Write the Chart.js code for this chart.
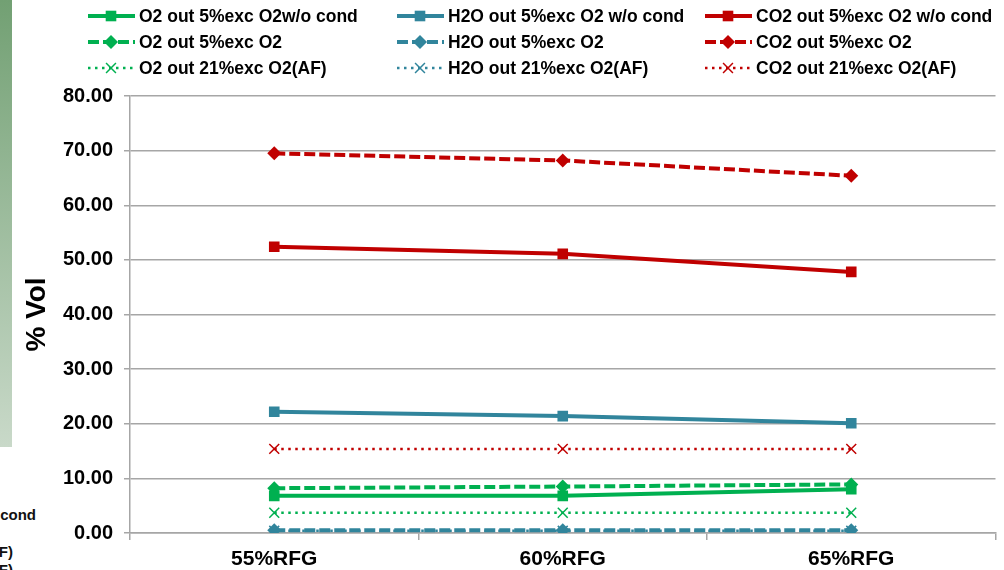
<!DOCTYPE html>
<html lang="en">
<head>
  <meta charset="UTF-8">
  <title>% Vol by RFG</title>
  <script src="https://cdn.jsdelivr.net/npm/chart.js"></script>
  <style>
    body {
      margin: 0;
      padding: 0;
      background: #fff;
      font-family: Arial, "Liberation Sans", sans-serif;
    }

    #wrap {
      position: relative;
      width: 1004px;
      height: 570px;
      overflow: hidden;
    }

    #sideBar {
      position: absolute;
      left: 0;
      top: 0;
      width: 12px;
      height: 447px;
      background: linear-gradient(#72a073, #c9d9c9);
    }

    .cut {
      position: absolute;
      left: 0;
      overflow: hidden;
      white-space: nowrap;
      font-weight: bold;
      font-size: 15px;
      color: #111;
      direction: rtl;
    }

    canvas {
      position: absolute;
      left: 0;
      top: 0;
    }
  </style>
</head>
<body>
  <div id="wrap">
    <div id="sideBar"></div>
    <div class="cut" style="top:506px; width:36px;">&lrm;cond</div>
    <div class="cut" style="top:543px; width:13px;">&lrm;(AF)</div>
    <div class="cut" style="top:561px; width:13px;">&lrm;(AF)</div>
    <canvas id="myChart" width="1004" height="570"></canvas>
  </div>

  <script>
    const categories = ['55%RFG', '60%RFG', '65%RFG'];

    const o2WoCond = [6.8, 6.8, 8.0];
    const h2oWoCond = [22.2, 21.4, 20.1];
    const co2WoCond = [52.4, 51.1, 47.8];

    const o2Exc5 = [8.2, 8.5, 8.9];
    const h2oExc5 = [0.5, 0.5, 0.5];
    const co2Exc5 = [69.5, 68.2, 65.4];

    const o2Af = [3.7, 3.7, 3.7];
    const h2oAf = [0.4, 0.4, 0.4];
    const co2Af = [15.4, 15.4, 15.4];

    const yMin = 0;
    const yMax = 80;
    const yStep = 10;

    const green = '#00b050';
    const teal = '#31859c';
    const red = '#c00000';
    const gridGrey = '#a6a6a6';
    const font = 'Arial, "Liberation Sans", sans-serif';

    function solid(label, data, color) {
      return {
        label: label, data: data, borderColor: color, backgroundColor: color,
        borderWidth: 4, borderDash: [], pointStyle: 'rect', pointRadius: 7.5,
        pointBorderWidth: 0
      };
    }

    function dashed(label, data, color) {
      return {
        label: label, data: data, borderColor: color, backgroundColor: color,
        borderWidth: 4, borderDash: [11, 4], pointStyle: 'rectRot', pointRadius: 7,
        pointBorderWidth: 0
      };
    }

    function dotted(label, data, color) {
      return {
        label: label, data: data, borderColor: color, backgroundColor: color,
        borderWidth: 2.5, borderDash: [2.5, 4.5], pointStyle: 'crossRot', pointRadius: 7,
        pointBorderWidth: 1.5
      };
    }

    // legend laid out in three fixed columns like the original
    const legendCols = [88, 397, 705];
    const legendRows = [16, 42, 68];

    const gridLegend = {
      id: 'gridLegend',
      afterDraw(chart) {
        const ctx = chart.ctx;
        chart.data.datasets.forEach(function(ds, i) {
          const x0 = legendCols[i % 3];
          const y = legendRows[Math.floor(i / 3)];
          ctx.save();
          ctx.strokeStyle = ds.borderColor;
          ctx.lineWidth = ds.borderWidth;
          ctx.setLineDash(ds.borderDash);
          ctx.beginPath();
          ctx.moveTo(x0, y);
          ctx.lineTo(x0 + 47, y);
          ctx.stroke();
          ctx.setLineDash([]);
          ctx.fillStyle = ds.backgroundColor;
          ctx.strokeStyle = ds.borderColor;
          ctx.lineWidth = ds.pointBorderWidth || 1.5;
          Chart.helpers.drawPoint(ctx, {
            pointStyle: ds.pointStyle,
            radius: ds.pointRadius,
            rotation: 0,
            borderWidth: ds.pointBorderWidth
          }, x0 + 23, y);
          ctx.fillStyle = '#000';
          ctx.font = 'bold 17.5px ' + font;
          ctx.textBaseline = 'middle';
          ctx.fillText(ds.label, x0 + 51, y + 1);
          ctx.restore();
        });
      }
    };

    const ctx = document.getElementById('myChart').getContext('2d');
    const myChart = new Chart(ctx, {
      type: 'line',
      data: {
        labels: categories,
        datasets: [
          solid('O2 out 5%exc O2w/o cond', o2WoCond, green),
          solid('H2O out 5%exc O2 w/o cond', h2oWoCond, teal),
          solid('CO2 out 5%exc O2 w/o cond', co2WoCond, red),
          dashed('O2 out 5%exc O2', o2Exc5, green),
          dashed('H2O out 5%exc O2', h2oExc5, teal),
          dashed('CO2 out 5%exc O2', co2Exc5, red),
          dotted('O2 out 21%exc O2(AF)', o2Af, green),
          dotted('H2O out 21%exc O2(AF)', h2oAf, teal),
          dotted('CO2 out 21%exc O2(AF)', co2Af, red)
        ]
      },
      options: {
        responsive: false,
        animation: false,
        layout: {
          padding: { top: 96, right: 8, bottom: 0, left: 0 }
        },
        elements: {
          line: { tension: 0, fill: false }
        },
        plugins: {
          legend: { display: false },
          tooltip: { enabled: false }
        },
        scales: {
          x: {
            offset: true,
            grid: {
              offset: true,
              drawOnChartArea: false,
              tickLength: 7,
              color: gridGrey,
              lineWidth: 1.5
            },
            border: { display: true, color: gridGrey, width: 1.5 },
            ticks: {
              color: '#000',
              padding: 7,
              font: { family: font, size: 21, weight: 'bold' }
            },
            afterFit(scale) { scale.height = 37; }
          },
          y: {
            min: yMin,
            max: yMax,
            grid: {
              color: gridGrey,
              lineWidth: 1.5,
              tickLength: 6
            },
            border: { display: true, color: gridGrey, width: 1.5 },
            ticks: {
              stepSize: yStep,
              color: '#000',
              padding: 11,
              font: { family: font, size: 20, weight: 'bold' },
              callback: function(v) { return v.toFixed(2); }
            },
            title: {
              display: true,
              text: '% Vol',
              color: '#000',
              padding: { top: 20, bottom: 0 },
              font: { family: font, size: 28, weight: 'bold' }
            },
            afterFit(scale) { scale.width = 130; }
          }
        }
      },
      plugins: [gridLegend]
    });
  </script>
</body>
</html>
